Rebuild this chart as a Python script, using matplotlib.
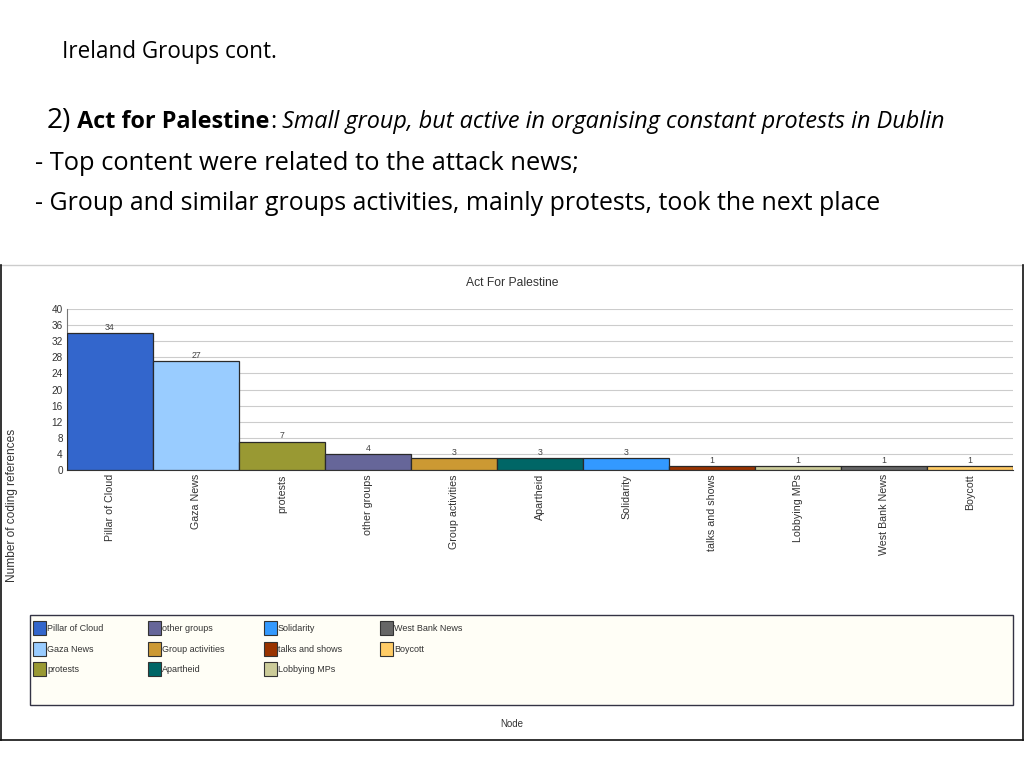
import matplotlib
matplotlib.use('Agg')
import matplotlib.pyplot as plt
from matplotlib.patches import Rectangle, Patch
from matplotlib.lines import Line2D
from matplotlib import font_manager

categories = ["Pillar of Cloud", "Gaza News", "protests", "other groups", "Group activities",
              "Apartheid", "Solidarity", "talks and shows", "Lobbying MPs", "West Bank News", "Boycott"]
values = [34, 27, 7, 4, 3, 3, 3, 1, 1, 1, 1]
colors = ["#3366CC", "#99CCFF", "#999933", "#666699", "#CC9933",
          "#006666", "#3399FF", "#993300", "#CCCC99", "#666666", "#FFCC66"]
yticks = list(range(0, 41, 4))

W, H = 1024, 768


def pick(fams):
    for f in fams:
        try:
            font_manager.findfont(font_manager.FontProperties(family=f), fallback_to_default=False)
            return f
        except Exception:
            pass
    return "DejaVu Sans"


SLIDE = pick(["Open Sans", "Noto Sans", "Liberation Sans"])
CHART = pick(["Liberation Sans", "Arial", "DejaVu Sans"])


def px(x, y):
    return x / W, 1 - y / H


fig = plt.figure(figsize=(W / 100, H / 100), dpi=100)
fig.patch.set_facecolor("white")
renderer = fig.canvas.get_renderer()


def fit(x, y, s, target_w, **kw):
    t = fig.text(*px(x, y), s, fontsize=20, family=SLIDE, va="baseline", ha="left", **kw)
    w = t.get_window_extent(renderer).width
    t.set_fontsize(20 * target_w / w)
    return t


# slide text
fit(62, 58, "Ireland Groups cont.", 215, color="black")
fit(35, 170, "- Top content were related to the attack news;", 543, color="black")
fit(35, 210, "- Group and similar groups activities, mainly protests, took the next place", 843, color="black")

parts = [("2)", 1.2, "normal", "normal"), (" Act for Palestine", 1.0, "bold", "normal"),
         (":", 1.0, "normal", "normal"), (" Small group, but active in organising constant protests in Dublin", 1.0, "normal", "italic")]
base = 18
texts = []
for s, scale, wt, st in parts:
    t = fig.text(0, 0, s, fontsize=base * scale, family=SLIDE, weight=wt, style=st, va="baseline")
    texts.append((t, scale))
tot = sum(t.get_window_extent(renderer).width for t, _ in texts)
f = 898 / tot
xcur = 47
for t, scale in texts:
    t.set_fontsize(base * scale * f)
    t.set_position(px(xcur, 128))
    xcur += t.get_window_extent(renderer).width

# chart frame
fig.add_artist(Line2D([px(0, 0)[0], px(1023, 0)[0]], [px(0, 265)[1]] * 2, color="#cccccc", lw=1))
fig.add_artist(Line2D([px(0.5, 0)[0]] * 2, [px(0, 265)[1], px(0, 740)[1]], color="#111111", lw=1.2))
fig.add_artist(Line2D([px(0, 0)[0], px(1023, 0)[0]], [px(0, 740)[1]] * 2, color="#111111", lw=1.2))
fig.add_artist(Line2D([px(1022.5, 0)[0]] * 2, [px(0, 265)[1], px(0, 740)[1]], color="#111111", lw=1.2))

# axes
l, b = px(67, 470)
ax = fig.add_axes([l, b, 946 / W, 161 / H])
x = list(range(len(categories)))
bars = ax.bar(x, values, width=1.0, color=colors, edgecolor="#2a2a2a", linewidth=0.9, zorder=3)
ax.set_xlim(-0.5, len(categories) - 0.5)
ax.set_ylim(0, 40)
ax.set_yticks(yticks)
ax.set_yticklabels([str(v) for v in yticks], fontsize=7.2, family=CHART, color="#333333")
ax.set_xticks(x)
ax.set_xticklabels(categories, rotation=90, fontsize=7.7, family=CHART, color="#333333", va="top")
ax.tick_params(length=0, pad=3)
ax.grid(axis="y", color="#cccccc", lw=0.8, zorder=0)
for sp in ["top", "right"]:
    ax.spines[sp].set_visible(False)
ax.spines["left"].set_color("#777777")
ax.spines["bottom"].set_color("#333333")
ax.bar_label(bars, padding=1, fontsize=6.3, family=CHART, color="#444444")

fig.text(*px(512, 283), "Act For Palestine", ha="center", va="center", fontsize=8.7, family=CHART, color="#333333")
fig.text(*px(12, 505), "Number of coding references", ha="center", va="center", rotation=90,
         fontsize=8.6, family=CHART, color="#333333")
fig.text(*px(512, 724), "Node", ha="center", va="center", fontsize=7, family=CHART, color="#333333")

# legend box
lx, ly = px(30, 705)
fig.add_artist(Rectangle((lx, ly), 983 / W, 90 / H, transform=fig.transFigure,
                         facecolor="#FFFEF6", edgecolor="#333344", lw=1.0))

handles = [Patch(facecolor=c, edgecolor="#333333", lw=0.8, label=n) for c, n in zip(colors, categories)]
cols = [handles[0:3], handles[3:6], handles[6:9], handles[9:11]]
col_x = [33, 148, 264, 380]
for hs, cx in zip(cols, col_x):
    leg = fig.legend(handles=hs, loc="upper left", bbox_to_anchor=px(cx, 621), frameon=False,
                     prop={"family": CHART, "size": 6.5}, handlelength=1.4, handleheight=2.0,
                     handletextpad=0.15, labelspacing=0.75, borderpad=0, borderaxespad=0)
    for t in leg.get_texts():
        t.set_color("#333333")

fig.savefig("out.png", dpi=100)
